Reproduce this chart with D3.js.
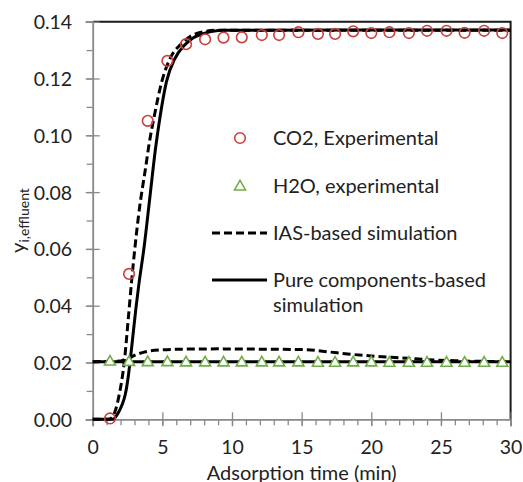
<!DOCTYPE html>
<html>
<head>
<meta charset="utf-8">
<script src="https://cdn.jsdelivr.net/npm/d3@7"></script>
<style>
  body { margin: 0; background: white; }
  svg { display: block; }
</style>
</head>
<body>
<div id="chart"></div>
<script>
const expTime = [1.24, 2.61, 3.95, 5.36, 6.7, 8.07, 9.39, 10.7, 12.14, 13.38, 14.77, 16.17, 17.4, 18.7, 20.0, 21.3, 22.7, 24.0, 25.4, 26.7, 28.1, 29.4];
const co2Exp = [0.0003, 0.0512, 0.1051, 0.1262, 0.1321, 0.1338, 0.1344, 0.1345, 0.1353, 0.1353, 0.1363, 0.1357, 0.1357, 0.1366, 0.1360, 0.1363, 0.1360, 0.1368, 0.1368, 0.1361, 0.1368, 0.1360];
const h2oExp = [0.0205, 0.0204, 0.0203, 0.0203, 0.0202, 0.0202, 0.0202, 0.0202, 0.0202, 0.0202, 0.0202, 0.0201, 0.0201, 0.0202, 0.0202, 0.0201, 0.0201, 0.0201, 0.0201, 0.0201, 0.0201, 0.0201];

// IAS-based simulation (dashed)
const iasCo2Time = [0, 1.15, 1.45, 1.6, 1.9, 2.27, 2.56, 2.8, 3.28, 3.88, 4.0, 4.43, 4.96, 5.55, 6.27, 7.0, 8.0, 9.0, 30];
const iasCo2 = [0, 0, 0.001, 0.0027, 0.0086, 0.0203, 0.0357, 0.049, 0.0713, 0.0913, 0.0954, 0.107, 0.1189, 0.127, 0.1318, 0.1348, 0.1365, 0.137, 0.137];
const iasH2oTime = [0, 2.0, 2.3, 2.6, 3.0, 3.8, 5.0, 6.5, 9.0, 12.0, 15.4, 17.0, 18.3, 20.0, 22.6, 24.0, 26.1, 28.0, 30];
const iasH2o = [0.0203, 0.0205, 0.021, 0.0215, 0.0225, 0.0238, 0.0245, 0.0247, 0.0248, 0.0247, 0.0245, 0.0237, 0.023, 0.0223, 0.0215, 0.021, 0.0206, 0.0204, 0.0203];

// pure components-based simulation (solid)
const pureCo2Time = [0, 1.45, 1.8, 2.1, 2.35, 2.55, 2.7, 2.9, 3.1, 3.3, 3.7, 4.1, 4.5, 4.85, 5.3, 5.9, 6.6, 7.2, 7.8, 8.5, 9.5, 30];
const pureCo2 = [0, 0, 0.002, 0.005, 0.009, 0.015, 0.021, 0.030, 0.039, 0.047, 0.061, 0.078, 0.095, 0.107, 0.119, 0.127, 0.1318, 0.1343, 0.1356, 0.1365, 0.137, 0.1371];
const pureH2oTime = [0, 30];
const pureH2o = [0.0203, 0.0203];

const xTicks = [0, 5, 10, 15, 20, 25, 30];
const yTicks = [0, 0.02, 0.04, 0.06, 0.08, 0.10, 0.12, 0.14];

const legendLabels = ['CO2, Experimental', 'H2O, experimental', 'IAS-based simulation', 'Pure components-based', 'simulation'];

const width = 523;
const height = 482;
const margin = {left: 92.7, right: 12.4, top: 21.7, bottom: 62.7};
const axisColor = '#898989';
const textColor = '#222222';
const circleColor = '#C9403D';
const triangleColor = '#70AD47';
const fontFamily = 'Lato, "Open Sans", sans-serif';
const fontSize = '20px';
const tickFontSize = '19.5px';
const dash = '8, 4';

const svg = d3.select('#chart')
  .append('svg')
  .attr('width', width)
  .attr('height', height)
  .style('font-family', fontFamily);

const x = d3.scaleLinear().domain([0, 30]).range([margin.left, width - margin.right]);
const y = d3.scaleLinear().domain([0, 0.14]).range([height - margin.bottom, margin.top]);

const pairs = (xs, ys) => xs.map((t, i) => [t, ys[i]]);

// plot border (top + right)
svg.append('path')
  .attr('d', `M${x(0)},${y(0.14)}H${x(30)}V${y(0)}`)
  .attr('fill', 'none')
  .attr('stroke', '#1a1a1a')
  .attr('stroke-width', 2);

function renderAxis() {
  const yMinor = svg.append('g')
    .attr('transform', `translate(${x(0)},0)`)
    .call(d3.axisLeft(y).tickValues(d3.range(0, 0.1401, 0.01)).tickSize(6).tickFormat(''));
  yMinor.select('path').remove();
  yMinor.selectAll('line').attr('stroke', axisColor).attr('stroke-width', 1.3);

  const yAxis = svg.append('g')
    .attr('transform', `translate(${x(0)},0)`)
    .call(d3.axisLeft(y).tickValues(yTicks).tickSize(7).tickFormat(d3.format('.2f')));
  yAxis.select('path').attr('stroke', axisColor).attr('stroke-width', 1.8);
  yAxis.selectAll('line').attr('x1', 7).attr('stroke', axisColor).attr('stroke-width', 1.3);
  yAxis.selectAll('text')
    .attr('x', -20.5)
    .attr('dy', '0.36em')
    .style('font-size', tickFontSize)
    .style('font-family', fontFamily)
    .attr('fill', textColor);

  const xMinor = svg.append('g')
    .attr('transform', `translate(0,${y(0)})`)
    .call(d3.axisBottom(x).tickValues(d3.range(0, 31, 1)).tickSize(6).tickFormat(''));
  xMinor.select('path').remove();
  xMinor.selectAll('line').attr('stroke', axisColor).attr('stroke-width', 1.3);

  const xAxis = svg.append('g')
    .attr('transform', `translate(0,${y(0)})`)
    .call(d3.axisBottom(x).tickValues(xTicks).tickSize(7));
  xAxis.select('path').attr('stroke', axisColor).attr('stroke-width', 1.8);
  xAxis.selectAll('line').attr('y1', -7).attr('stroke', axisColor).attr('stroke-width', 1.3);
  xAxis.selectAll('text')
    .attr('y', 34.7)
    .attr('dy', 0)
    .style('font-size', tickFontSize)
    .style('font-family', fontFamily)
    .attr('fill', textColor);

  svg.append('text')
    .attr('x', (x(0) + x(30)) / 2)
    .attr('y', 479.5)
    .attr('text-anchor', 'middle')
    .style('font-size', fontSize)
    .attr('fill', textColor)
    .text('Adsorption time (min)');

  const yTitle = svg.append('text')
    .attr('transform', `translate(25,${(y(0) + y(0.14)) / 2}) rotate(-90)`)
    .attr('text-anchor', 'middle')
    .attr('fill', textColor);
  yTitle.append('tspan').style('font-size', fontSize).text('y');
  yTitle.append('tspan').style('font-size', '14px').attr('dy', 4).text('i,effluent');
}

renderAxis();

const line = d3.line()
  .x(d => x(d[0]))
  .y(d => y(d[1]))
  .curve(d3.curveMonotoneX);

const curves = [
  {data: pairs(pureH2oTime, pureH2o), dashed: false},
  {data: pairs(pureCo2Time, pureCo2), dashed: false},
  {data: pairs(iasH2oTime, iasH2o), dashed: true},
  {data: pairs(iasCo2Time, iasCo2), dashed: true}
];

curves.forEach(c => {
  svg.append('path')
    .datum(c.data)
    .attr('fill', 'none')
    .attr('stroke', 'black')
    .attr('stroke-width', 3)
    .attr('stroke-dasharray', c.dashed ? dash : null)
    .attr('d', line);
});

const triangle = d3.symbol().type(d3.symbolTriangle).size(52);

svg.append('g')
  .selectAll('path')
  .data(pairs(expTime, h2oExp))
  .join('path')
  .attr('transform', d => `translate(${x(d[0])},${y(d[1]) + 0.8})`)
  .attr('d', triangle)
  .attr('fill', 'white')
  .attr('stroke', triangleColor)
  .attr('stroke-width', 1.6);

svg.append('g')
  .selectAll('circle')
  .data(pairs(expTime, co2Exp))
  .join('circle')
  .attr('cx', d => x(d[0]))
  .attr('cy', d => y(d[1]))
  .attr('r', 5.3)
  .attr('fill', 'none')
  .attr('stroke', circleColor)
  .attr('stroke-width', 1.6);

// legend
const legend = svg.append('g').style('font-size', fontSize).attr('fill', textColor);
const legendX = 273;
const legendY = [138, 186, 233, 280, 305];

legend.append('circle')
  .attr('cx', 240).attr('cy', legendY[0]).attr('r', 5.3)
  .attr('fill', 'none').attr('stroke', circleColor).attr('stroke-width', 1.6);
legend.append('path')
  .attr('transform', `translate(240,${legendY[1] + 0.8})`)
  .attr('d', triangle)
  .attr('fill', 'none').attr('stroke', triangleColor).attr('stroke-width', 1.6);
legend.append('line')
  .attr('x1', 212).attr('x2', 267).attr('y1', legendY[2]).attr('y2', legendY[2])
  .attr('stroke', 'black').attr('stroke-width', 3).attr('stroke-dasharray', dash);
legend.append('line')
  .attr('x1', 212).attr('x2', 267).attr('y1', legendY[3]).attr('y2', legendY[3])
  .attr('stroke', 'black').attr('stroke-width', 3);

legendLabels.forEach((label, i) => {
  legend.append('text')
    .attr('x', legendX)
    .attr('y', legendY[i])
    .attr('dy', '0.36em')
    .text(label);
});
</script>
</body>
</html>
